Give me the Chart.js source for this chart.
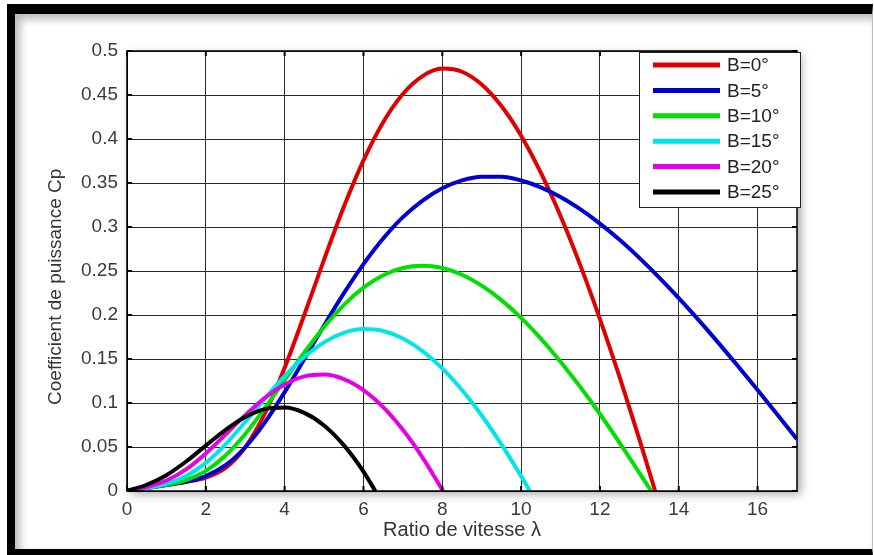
<!DOCTYPE html>
<html lang="fr">
<head>
  <meta charset="UTF-8" />
  <title>Coefficient de puissance Cp</title>
  <script src="https://cdn.jsdelivr.net/npm/chart.js"></script>
  <style>
    html, body { margin: 0; padding: 0; background: #fff; }
    body { width: 874px; height: 555px; position: relative; overflow: hidden; }
    .frame {
      position: absolute;
      left: 7px; top: 4px;
      width: 866px; height: 551px;
      box-sizing: border-box;
      border-top: 10px solid #000;
      border-left: 8px solid #000;
      border-bottom: 6px solid #000;
      border-right: 1px solid #bbb;
      box-shadow: inset 5px 5px 9px rgba(0,0,0,0.28);
    }
    #cp { position: absolute; left: 0; top: 0; }
  </style>
</head>
<body>
  <div class="frame"></div>
  <canvas id="cp" width="874" height="555"></canvas>

  <script>
    // values (Cp vs tip speed ratio, one list per pitch angle)
    const labelsB = ['B=0°', 'B=5°', 'B=10°', 'B=15°', 'B=20°', 'B=25°'];
    const colors  = ['#e00000', '#0000d0', '#00e000', '#00e6e6', '#e600e6', '#000000'];

    const lamB0 = [0,0.5,1,1.5,2,2.5,3,3.5,4,4.5,5,5.5,6,6.5,7,7.5,8,8.5,9,9.5,10,10.5,11,11.5,12,12.5,13,13.4];
    const cpB0  = [0,0.0034,0.0068,0.0103,0.0151,0.0261,0.0496,0.0882,0.1401,0.2003,0.2629,0.3227,0.3757,0.4191,
                   0.4512,0.4715,0.4800,0.4764,0.4619,0.4374,0.4038,0.3617,0.3125,0.2567,0.1954,0.1293,0.0590,0];

    const lamB5 = [0,0.5,1,1.5,2,2.5,3,3.5,4,4.5,5,5.5,6,6.5,7,7.5,8,8.5,9,9.5,10,10.5,11,11.5,12,12.5,13,13.5,14,14.5,15,15.5,16,16.5,17];
    const cpB5  = [0,0.0034,0.0068,0.0106,0.0170,0.0293,0.0497,0.0780,0.1123,0.1499,0.1880,0.2245,0.2578,0.2869,
                   0.3112,0.3301,0.3440,0.3529,0.3571,0.3571,0.3528,0.3451,0.3341,0.3203,0.3039,0.2854,0.2649,
                   0.2427,0.2191,0.1944,0.1686,0.1420,0.1147,0.0869,0.0587];

    const lamB10 = [0,0.5,1,1.5,2,2.5,3,3.5,4,4.5,5,5.5,6,6.5,7,7.5,8,8.5,9,9.5,10,10.5,11,11.5,12,12.5,13,13.3];
    const cpB10  = [0,0.0034,0.0070,0.0125,0.0229,0.0403,0.0648,0.0943,0.1261,0.1575,0.1864,0.2113,0.2310,0.2451,
                    0.2534,0.2561,0.2534,0.2457,0.2334,0.2169,0.1967,0.1732,0.1470,0.1183,0.0875,0.0548,0.0207,0];

    const lamB15 = [0,0.5,1,1.5,2,2.5,3,3.5,4,4.5,5,5.5,6,6.5,7,7.5,8,8.5,9,9.5,10,10.22];
    const cpB15  = [0,0.0035,0.0083,0.0171,0.0320,0.0531,0.0784,0.1050,0.1304,0.1522,0.1689,0.1797,0.1840,0.1818,
                    0.1733,0.1590,0.1393,0.1147,0.0858,0.0530,0.0169,0];

    const lamB20 = [0,0.5,1,1.5,2,2.5,3,3.5,4,4.5,5,5.5,6,6.5,7,7.5,8.02];
    const cpB20  = [0,0.0044,0.0119,0.0246,0.0427,0.0642,0.0862,0.1060,0.1211,0.1302,0.1323,0.1272,0.1147,0.0953,
                    0.0695,0.0380,0];

    const lamB25 = [0,0.5,1,1.5,2,2.5,3,3.5,4,4.5,5,5.5,6,6.3];
    const cpB25  = [0,0.0071,0.0180,0.0335,0.0516,0.0695,0.0841,0.0931,0.0949,0.0888,0.0745,0.0521,0.0221,0];

    const series = [[lamB0, cpB0], [lamB5, cpB5], [lamB10, cpB10], [lamB15, cpB15], [lamB20, cpB20], [lamB25, cpB25]];

    const FONT = "'Liberation Sans', Arial, sans-serif";
    const AREA = { left: 127, top: 51, right: 797, bottom: 491 };

    // white plot box with a soft drop shadow, drawn under the grid
    const plotBox = {
      id: 'plotBox',
      beforeDraw(chart) {
        const { ctx, chartArea: a } = chart;
        ctx.save();
        ctx.shadowColor = 'rgba(0,0,0,0.35)';
        ctx.shadowBlur = 9;
        ctx.shadowOffsetX = 4;
        ctx.shadowOffsetY = 3;
        ctx.fillStyle = '#fff';
        ctx.fillRect(a.left, a.top, a.right - a.left, a.bottom - a.top);
        ctx.restore();
      },
      afterDatasetsDraw(chart) {
        const { ctx, chartArea: a, scales } = chart;
        ctx.save();
        ctx.strokeStyle = '#000';
        ctx.lineWidth = 1.5;
        ctx.strokeRect(a.left, a.top, a.right - a.left, a.bottom - a.top);
        // inward tick marks on all four sides (matlab style)
        ctx.lineWidth = 2;
        ctx.beginPath();
        scales.x.ticks.forEach(t => {
          const px = scales.x.getPixelForValue(t.value);
          ctx.moveTo(px, a.bottom); ctx.lineTo(px, a.bottom - 5);
          ctx.moveTo(px, a.top); ctx.lineTo(px, a.top + 5);
        });
        scales.y.ticks.forEach(t => {
          const py = scales.y.getPixelForValue(t.value);
          ctx.moveTo(a.left, py); ctx.lineTo(a.left + 5, py);
          ctx.moveTo(a.right, py); ctx.lineTo(a.right - 5, py);
        });
        ctx.stroke();
        ctx.restore();
      }
    };

    // legend box in the upper right corner of the axes
    const boxLegend = {
      id: 'boxLegend',
      afterDraw(chart) {
        const { ctx } = chart;
        const x0 = 639, y0 = 52, w = 161, h = 155;
        ctx.save();
        ctx.fillStyle = '#fff';
        ctx.fillRect(x0, y0, w, h);
        ctx.strokeStyle = '#222';
        ctx.lineWidth = 1;
        ctx.strokeRect(x0 + 0.5, y0 + 0.5, w, h);
        ctx.font = '19px ' + FONT;
        ctx.textBaseline = 'middle';
        chart.data.datasets.forEach((ds, i) => {
          const y = 65 + i * 25.4;
          ctx.strokeStyle = ds.borderColor;
          ctx.lineWidth = 5;
          ctx.beginPath();
          ctx.moveTo(653, y);
          ctx.lineTo(720, y);
          ctx.stroke();
          ctx.fillStyle = '#222';
          ctx.fillText(ds.label, 727, y + 1);
        });
        ctx.restore();
      }
    };

    new Chart(document.getElementById('cp'), {
      type: 'line',
      data: {
        datasets: series.map(([xs, ys], i) => ({
          label: labelsB[i],
          data: xs.map((x, k) => ({ x, y: ys[k] })),
          borderColor: colors[i],
          borderWidth: 4,
          pointRadius: 0,
          fill: false,
          cubicInterpolationMode: 'monotone',
          order: series.length - i
        }))
      },
      options: {
        responsive: false,
        animation: false,
        devicePixelRatio: 1,
        layout: { padding: { left: 0, top: AREA.top, right: 874 - AREA.right, bottom: 0 } },
        plugins: { legend: { display: false }, tooltip: { enabled: false } },
        scales: {
          x: {
            type: 'linear',
            min: 0, max: 17,
            afterFit: s => { s.height = 555 - AREA.bottom; },
            ticks: { stepSize: 2, includeBounds: false, padding: 7, color: '#3a3a3a', font: { size: 19, family: FONT } },
            grid: { color: '#2a2a2a', lineWidth: 1, drawTicks: false },
            border: { color: '#000' },
            title: { display: true, text: 'Ratio de vitesse λ', color: '#333', font: { size: 20, family: FONT }, padding: { top: 0, bottom: 13 } }
          },
          y: {
            min: 0, max: 0.5,
            afterFit: s => { s.width = AREA.left; },
            ticks: {
              stepSize: 0.05, padding: 9, color: '#3a3a3a', font: { size: 19, family: FONT },
              callback: v => String(+v.toFixed(2))
            },
            grid: { color: '#2a2a2a', lineWidth: 1, drawTicks: false },
            border: { color: '#000' },
            title: { display: true, text: 'Coefficient de puissance Cp      ', color: '#333', font: { size: 19, family: FONT }, padding: { top: 44, bottom: 0 } }
          }
        }
      },
      plugins: [plotBox, boxLegend]
    });
  </script>
</body>
</html>
